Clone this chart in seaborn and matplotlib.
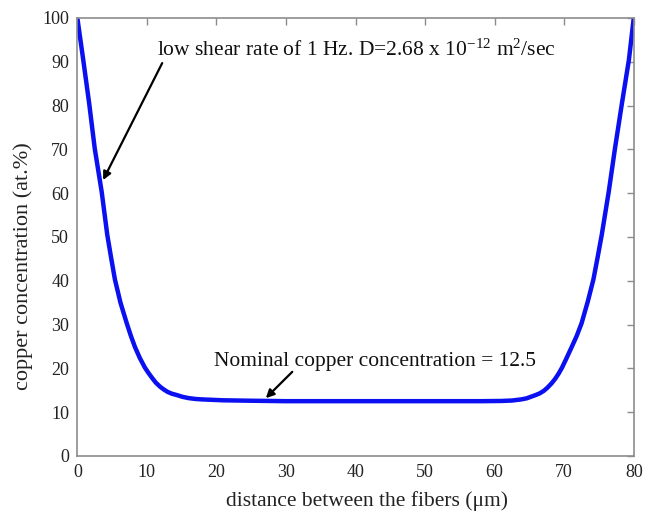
import matplotlib
matplotlib.use("Agg")
import matplotlib.pyplot as plt
import pandas as pd
import seaborn as sns

# ── Data ─────────────────────────────────────────────────────────────────────
distance = [0.0, 0.85, 1.7, 2.5, 3.5, 4.3, 4.85, 5.4, 6.2, 7.1, 7.7, 8.3,
            9.0, 9.7, 10.2, 10.8, 11.3, 11.9, 12.4, 13.0, 13.6, 14.3, 15.1,
            16.0, 17.0, 18.0, 19.5, 21.0, 25.0, 30.0, 40.0, 50.0, 58.0,
            61.0, 62.5, 63.8, 64.6, 65.2, 65.9, 66.5, 67.1, 67.6, 68.2,
            68.7, 69.2, 69.7, 70.3, 71.0, 71.8, 72.5, 73.4, 74.2, 74.8,
            75.4, 76.4, 77.3, 78.3, 79.3, 80.0]
concentration = [100.0, 90.4, 80.5, 70.2, 60.3, 50.5, 45.3, 40.3, 35.0, 30.3,
                 27.4, 24.8, 22.3, 20.2, 19.0, 17.7, 16.7, 15.8, 15.2, 14.6,
                 14.2, 13.9, 13.5, 13.2, 13.0, 12.9, 12.8, 12.7, 12.6, 12.5,
                 12.5, 12.5, 12.5, 12.55, 12.65, 12.9, 13.15, 13.5, 13.9,
                 14.3, 14.9, 15.6, 16.6, 17.6, 18.8, 20.2, 22.2, 24.6, 27.4,
                 30.3, 35.3, 40.3, 45.3, 50.5, 60.3, 70.2, 80.5, 90.4, 100.0]

x_ticks = [0, 10, 20, 30, 40, 50, 60, 70, 80]
y_ticks = [0, 10, 20, 30, 40, 50, 60, 70, 80, 90, 100]

df = pd.DataFrame({"distance": distance, "concentration": concentration})

# ── Style ────────────────────────────────────────────────────────────────────
sns.set_style("white")
plt.rcParams["font.family"] = ["Liberation Serif", "DejaVu Serif"]
plt.rcParams["mathtext.fontset"] = "custom"
plt.rcParams["mathtext.rm"] = "Liberation Serif"
plt.rcParams["mathtext.default"] = "rm"

fig = plt.figure(figsize=(6.5, 5.14), dpi=100)
ax = fig.add_axes([0.119, 0.113, 0.856, 0.852])

sns.lineplot(data=df, x="distance", y="concentration", ax=ax,
             color="#0a10f0", linewidth=3.2, estimator=None, sort=False)

ax.set_xlim(0, 80)
ax.set_ylim(0, 100)
ax.set_xticks(x_ticks)
ax.set_yticks(y_ticks)

axis_grey = "#8c8c8c"
for s in ax.spines.values():
    s.set_visible(True)
    s.set_color(axis_grey)
    s.set_linewidth(1.2)
ax.tick_params(direction="in", length=5, width=1.0, color=axis_grey,
               top=True, right=True, labelsize=13, labelcolor="#222222",
               pad=6)

ax.set_xlabel("distance between the fibers (\u03bcm)", fontsize=15.5,
              color="#222222")
ax.set_ylabel("copper concentration (at.%)", fontsize=16, color="#222222")
ax.xaxis.set_label_coords(0.52, -0.08)
ax.yaxis.set_label_coords(-0.079, 0.434)

# ── Annotations ──────────────────────────────────────────────────────────────
arrow = dict(arrowstyle="-|>", color="black", lw=1.6, mutation_scale=12,
             shrinkA=0, shrinkB=0)
ax.annotate("", xy=(3.7, 63.0), xytext=(12.2, 89.7), arrowprops=arrow)
ax.text(11.4, 92.7, "low shear rate of 1 Hz. D=2.68 x 10$^{-12}$ m$^{2}$/sec",
        fontsize=15.5, ha="left", va="center", color="#111111")

ax.annotate("", xy=(27.1, 13.2), xytext=(30.9, 19.2), arrowprops=arrow)
ax.text(19.6, 21.5, "Nominal copper concentration = 12.5",
        fontsize=15.5, ha="left", va="center", color="#111111")

fig.savefig("out.png", dpi=100)
